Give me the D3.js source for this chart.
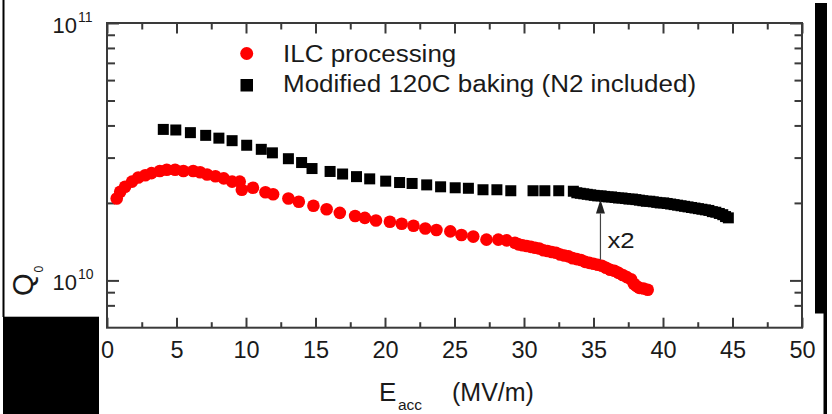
<!DOCTYPE html>
<html>
<head>
<meta charset="utf-8">
<script src="https://cdn.jsdelivr.net/npm/d3@7"></script>
<style>
  html, body { margin: 0; padding: 0; background: #fff; }
  svg { display: block; font-family: "Liberation Sans", Arial, sans-serif; }
</style>
</head>
<body>
<svg id="chart" width="832" height="414"></svg>
<script>
// Q0 vs accelerating gradient, two surface treatments
const ilcE = [0.7, 0.95, 1.3, 1.8, 2.25, 2.75, 3.2, 3.8, 4.3, 4.9, 5.5, 6.2, 6.7, 7.2, 7.8, 8.4, 9.0, 9.55, 9.7,
  10.5, 11.4, 11.95, 13.05, 13.8, 14.85, 15.8, 16.75, 17.85, 18.55, 19.35, 20.35, 21.2, 22.05, 22.9, 23.7,
  24.7, 25.5, 26.35, 27.3, 28.15, 28.75, 29.35, 29.6, 29.9, 30.2, 30.5, 30.8, 31.1, 31.4, 31.7, 32.0, 32.3,
  32.6, 32.9, 33.2, 33.5, 33.8, 34.1, 34.4, 34.7, 35.0, 35.3, 35.6, 35.9, 36.2, 36.5, 36.8, 37.1, 37.4,
  37.7, 37.9, 38.1, 38.3, 38.6, 38.9];
const ilcQ = [2.08e10, 2.21e10, 2.31e10, 2.42e10, 2.51e10, 2.56e10, 2.61e10, 2.66e10, 2.69e10, 2.69e10, 2.66e10,
  2.66e10, 2.63e10, 2.58e10, 2.54e10, 2.49e10, 2.42e10, 2.42e10, 2.25e10, 2.29e10, 2.20e10, 2.16e10, 2.08e10,
  2.02e10, 1.95e10, 1.89e10, 1.83e10, 1.78e10, 1.75e10, 1.71e10, 1.69e10, 1.66e10, 1.63e10, 1.59e10, 1.57e10,
  1.55e10, 1.50e10, 1.48e10, 1.44e10, 1.44e10, 1.43e10, 1.40e10, 1.38e10, 1.37e10, 1.36e10, 1.35e10, 1.34e10,
  1.33e10, 1.31e10, 1.30e10, 1.29e10, 1.28e10, 1.26e10, 1.25e10, 1.24e10, 1.22e10, 1.21e10, 1.20e10, 1.18e10,
  1.17e10, 1.16e10, 1.15e10, 1.14e10, 1.12e10, 1.10e10, 1.09e10, 1.07e10, 1.05e10, 1.03e10, 1.01e10, 9.7e9,
  9.5e9, 9.35e9, 9.3e9, 9.2e9];

const bakeE = [4.05, 4.95, 6.0, 7.1, 8.05, 9.0, 10.05, 11.1, 11.9, 13.05, 14.0, 14.75, 16.05, 16.95, 17.95, 18.9,
  20.05, 21.05, 21.95, 23.0, 24.0, 25.05, 26.0, 27.05, 28.05, 29.05, 30.65, 31.5, 32.5, 33.55, 33.8, 34.05, 34.3,
  34.55, 34.8, 35.05, 35.3, 35.55, 35.8, 36.05, 36.3, 36.55, 36.8, 37.05, 37.3, 37.55, 37.8, 38.05, 38.3, 38.55,
  38.8, 39.05, 39.3, 39.55, 39.8, 40.05, 40.3, 40.55, 40.8, 41.05, 41.3, 41.55, 41.8, 42.05, 42.3, 42.55, 42.8,
  43.05, 43.3, 43.55, 43.8, 44.05, 44.3, 44.5, 44.7];
const bakeQ = [3.86e10, 3.84e10, 3.75e10, 3.66e10, 3.57e10, 3.49e10, 3.35e10, 3.23e10, 3.13e10, 2.97e10, 2.87e10,
  2.72e10, 2.65e10, 2.59e10, 2.53e10, 2.48e10, 2.43e10, 2.40e10, 2.38e10, 2.35e10, 2.31e10, 2.29e10, 2.28e10,
  2.25e10, 2.25e10, 2.23e10, 2.23e10, 2.23e10, 2.23e10, 2.22e10, 2.19e10, 2.18e10, 2.17e10, 2.16e10, 2.15e10,
  2.14e10, 2.13e10, 2.13e10, 2.12e10, 2.11e10, 2.11e10, 2.10e10, 2.09e10, 2.09e10, 2.08e10, 2.07e10, 2.07e10,
  2.06e10, 2.05e10, 2.04e10, 2.03e10, 2.03e10, 2.02e10, 2.01e10, 2.00e10, 2.00e10, 1.99e10, 1.98e10, 1.97e10,
  1.96e10, 1.95e10, 1.94e10, 1.93e10, 1.92e10, 1.91e10, 1.90e10, 1.89e10, 1.88e10, 1.87e10, 1.85e10, 1.84e10,
  1.82e10, 1.80e10, 1.77e10, 1.75e10];

const seriesNames = ["ILC processing", "Modified 120C baking (N2 included)"];
const xMajorTicks = [0, 5, 10, 15, 20, 25, 30, 35, 40, 45, 50];
const xMinorTicks = [2.5, 7.5, 12.5, 17.5, 22.5, 27.5, 32.5, 37.5, 42.5, 47.5];
const yMajorTicks = [1e10, 1e11];
const yMinorTicks = [8e9, 9e9, 2e10, 3e10, 4e10, 5e10, 6e10, 7e10, 8e10, 9e10];
const arrowE = 35.5;          // where the gain is marked
const arrowFrom = 1.15e10, arrowTo = 2.06e10;
const arrowLabel = "x2";

const svg = d3.select("#chart");
const L = 107, T = 23, R = 802, B = 327.7;
const axisColor = "#3a3a3a";
const textColor = "#1a1a1a";

const x = d3.scaleLinear().domain([0, 50]).range([L, R]);
const y = d3.scaleLog().domain([6.55e9, 1e11]).range([B, T]);

svg.append("rect").attr("width", 832).attr("height", 414).attr("fill", "#fff");

// ticks on all four sides, pointing inward
function tickAxis(axisGen, tx, ty, vals, size) {
  const g = svg.append("g").attr("transform", `translate(${tx},${ty})`)
    .call(axisGen.tickValues(vals).tickSizeInner(size).tickSizeOuter(0).tickFormat(""));
  g.select(".domain").remove();
  g.selectAll("line").attr("stroke", axisColor).attr("stroke-width", 2);
  return g;
}
tickAxis(d3.axisBottom(x), 0, B, xMajorTicks, -10);
tickAxis(d3.axisBottom(x), 0, B, xMinorTicks, -5.5);
tickAxis(d3.axisTop(x), 0, T, xMajorTicks, -10.5);
tickAxis(d3.axisTop(x), 0, T, xMinorTicks, -6.5);
tickAxis(d3.axisLeft(y), L, 0, yMajorTicks, -12);
tickAxis(d3.axisLeft(y), L, 0, yMinorTicks, -8);
tickAxis(d3.axisRight(y), R, 0, yMajorTicks, -12);
tickAxis(d3.axisRight(y), R, 0, yMinorTicks, -7.5);

// x tick labels
const xl = svg.append("g").attr("transform", `translate(0,${B})`)
  .call(d3.axisBottom(x).tickValues(xMajorTicks).tickSize(0).tickPadding(13.5).tickFormat(d3.format("d")));
xl.select(".domain").remove();
xl.selectAll("text").attr("font-size", 23.5).attr("fill", textColor)
  .attr("font-family", "'Liberation Sans', Arial, sans-serif");

// y tick labels as powers of ten
yMajorTicks.forEach(v => {
  const yy = y(v);
  const exp = Math.round(Math.log10(v));
  svg.append("text").attr("x", 77).attr("y", yy + 9.5).attr("text-anchor", "end")
    .attr("font-size", 22).attr("fill", textColor).text("10");
  svg.append("text").attr("x", 78).attr("y", yy - 1.5)
    .attr("font-size", 14).attr("fill", textColor).text(exp);
});

// frame
svg.append("rect").attr("x", L).attr("y", T).attr("width", R - L).attr("height", B - T)
  .attr("fill", "none").attr("stroke", axisColor).attr("stroke-width", 2);

// axis titles
const xt = svg.append("text").attr("fill", textColor);
xt.append("tspan").attr("x", 379).attr("y", 401).attr("font-size", 26).text("E");
xt.append("tspan").attr("x", 398).attr("y", 410).attr("font-size", 15.5).text("acc");
xt.append("tspan").attr("x", 452).attr("y", 401).attr("font-size", 25).text("(MV/m)");

const yt = svg.append("g").attr("transform", "translate(33,296) rotate(-90)");
yt.append("text").attr("x", 0).attr("y", 0).attr("font-size", 29).attr("fill", textColor).text("Q");
yt.append("text").attr("x", 23.5).attr("y", 10).attr("font-size", 12).attr("fill", textColor).text("0");

// data
const bake = bakeE.map((e, i) => ({ e, q: bakeQ[i] }));
const ilc = ilcE.map((e, i) => ({ e, q: ilcQ[i] }));
const sq = 11;
svg.append("g").selectAll("rect").data(bake).join("rect")
  .attr("x", d => x(d.e) - sq / 2).attr("y", d => y(d.q) - sq / 2)
  .attr("width", sq).attr("height", sq).attr("fill", "#000");
svg.append("g").selectAll("circle").data(ilc).join("circle")
  .attr("cx", d => x(d.e)).attr("cy", d => y(d.q)).attr("r", 6.3).attr("fill", "#ff0000");

// gain arrow
const ax = x(arrowE);
svg.append("line").attr("x1", ax).attr("x2", ax).attr("y1", y(arrowFrom) - 5).attr("y2", y(arrowTo) + 14)
  .attr("stroke", "#444").attr("stroke-width", 1.2);
svg.append("path")
  .attr("d", `M${ax},${y(arrowTo)} L${ax - 4.5},${y(arrowTo) + 14} L${ax + 4.5},${y(arrowTo) + 14} Z`)
  .attr("fill", "#222");
svg.append("text").attr("transform", `translate(${ax + 7},${y(arrowFrom) - 17}) scale(1.12,1)`)
  .attr("font-size", 23).attr("fill", textColor).text(arrowLabel);

// legend
const lg = svg.append("g");
lg.append("circle").attr("cx", 246.7).attr("cy", 53.5).attr("r", 6.5).attr("fill", "#ff0000");
lg.append("rect").attr("x", 240.5).attr("y", 79).attr("width", 12.5).attr("height", 12.5).attr("fill", "#000");
lg.append("text").attr("transform", "translate(283,62) scale(1.13,1)")
  .attr("font-size", 23).attr("fill", textColor).text(seriesNames[0]);
lg.append("text").attr("transform", "translate(283,92) scale(1.13,1)")
  .attr("font-size", 23).attr("fill", textColor).text(seriesNames[1]);

// page edge blocks
svg.append("rect").attr("x", 2.5).attr("y", 0).attr("width", 2).attr("height", 317).attr("fill", "#000");
svg.append("rect").attr("x", 3).attr("y", 316.7).attr("width", 96).attr("height", 98).attr("fill", "#000");
svg.append("rect").attr("x", 815).attr("y", 3).attr("width", 12).attr("height", 310.5).attr("fill", "#000");
svg.append("rect").attr("x", 823.5).attr("y", 313).attr("width", 3.5).attr("height", 101).attr("fill", "#000");
</script>
</body>
</html>
